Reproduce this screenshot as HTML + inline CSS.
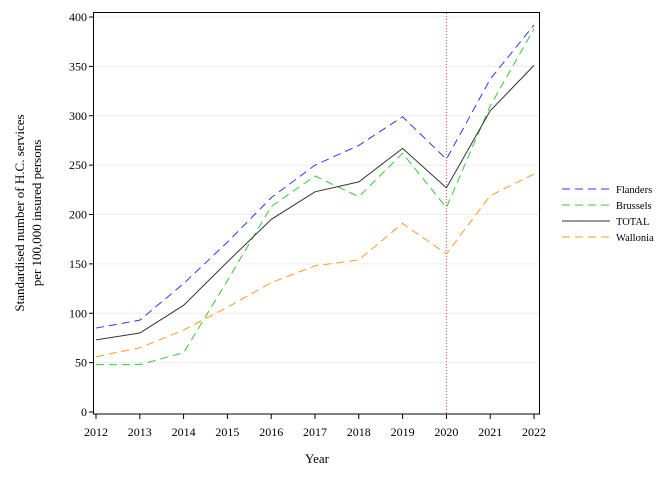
<!DOCTYPE html>
<html><head><meta charset="utf-8"><style>
body{margin:0;background:#fff;}
svg{display:block;font-family:"Liberation Serif",serif;}
</style></head><body>
<svg id="chart" width="672" height="480" viewBox="0 0 672 480" xmlns="http://www.w3.org/2000/svg">
<g id="grid"></g>
<g id="series"></g>
<rect x="93.5" y="12.5" width="446" height="401.5" fill="none" stroke="#000" stroke-width="1"/>
<g id="axes"></g>
<text x="317" y="463" text-anchor="middle" font-size="13">Year</text>
<text transform="translate(24,213) rotate(-90)" text-anchor="middle" font-size="13"><tspan x="0" dy="0">Standardised number of H.C. services</tspan><tspan x="0" dy="17">per 100,000 insured persons</tspan></text>
<g id="legend"></g>
</svg>
<script>
const years=[2012,2013,2014,2015,2016,2017,2018,2019,2020,2021,2022];
const yTicks=[0,50,100,150,200,250,300,350,400];
const flanders=[85,93,130,172,217,250,270,299,256,337,392];
const brussels=[48,48,60,133,208,239,218,262,207,310,388];
const total=[73,80,108,152,195,223,233,267,227,305,351];
const wallonia=[56,65,83,106,131,148,154,191,160,219,241];
const refYear=2020;
const NS="http://www.w3.org/2000/svg";
const x=v=>96+(v-2012)*(534-96)/10;
const y=v=>412-v*(395/400);
function mk(t,a,p){const e=document.createElementNS(NS,t);for(const k in a)e.setAttribute(k,a[k]);p.appendChild(e);return e;}
const grid=document.getElementById('grid'),axes=document.getElementById('axes'),ser=document.getElementById('series'),leg=document.getElementById('legend');
yTicks.forEach(t=>{
 if(t>0){const g=mk('line',{x1:94,x2:539,y1:y(t),y2:y(t),stroke:'#ececec','stroke-width':1},grid);
 
 }
 const tk=mk('line',{x1:89,x2:93,y1:y(t),y2:y(t),stroke:'#000'},axes);
 
 
 const lb=mk('text',{x:87,y:y(t)+4,'text-anchor':'end','font-size':12},axes);lb.textContent=t;
 
 
});
years.forEach(yr=>{
 const tk=mk('line',{x1:x(yr),x2:x(yr),y1:414,y2:419,stroke:'#000'},axes);
 
 
 const lb=mk('text',{x:x(yr),y:436,'text-anchor':'middle','font-size':12},axes);lb.textContent=yr;
 
 
});
const rl=mk('line',{x1:x(refYear),x2:x(refYear),y1:13,y2:414,stroke:'#cc4444','stroke-width':1,'stroke-dasharray':'1,2'},ser);


const defs=[['Flanders',flanders,'#3333ff','8,5'],['Brussels',brussels,'#33cc33','8,5'],['TOTAL',total,'#333333',''],['Wallonia',wallonia,'#ff9922','8,5']];
defs.forEach((d,i)=>{
 const pts=d[1].map((v,j)=>x(years[j])+','+y(v)).join(' ');
 const a={points:pts,fill:'none',stroke:d[2],'stroke-width':1};if(d[3])a['stroke-dasharray']=d[3];
 const pl=mk('polyline',a,ser);
 
 
 const ly=189+i*16;
 const la={x1:562,x2:610,y1:ly,y2:ly,stroke:d[2],'stroke-width':1};if(d[3])la['stroke-dasharray']=d[3];
 const ll=mk('line',la,leg);
 
 
 const lt=mk('text',{x:616,y:ly+4,'font-size':10.5},leg);lt.textContent=d[0];
 
 
});
</script>
</body></html>
